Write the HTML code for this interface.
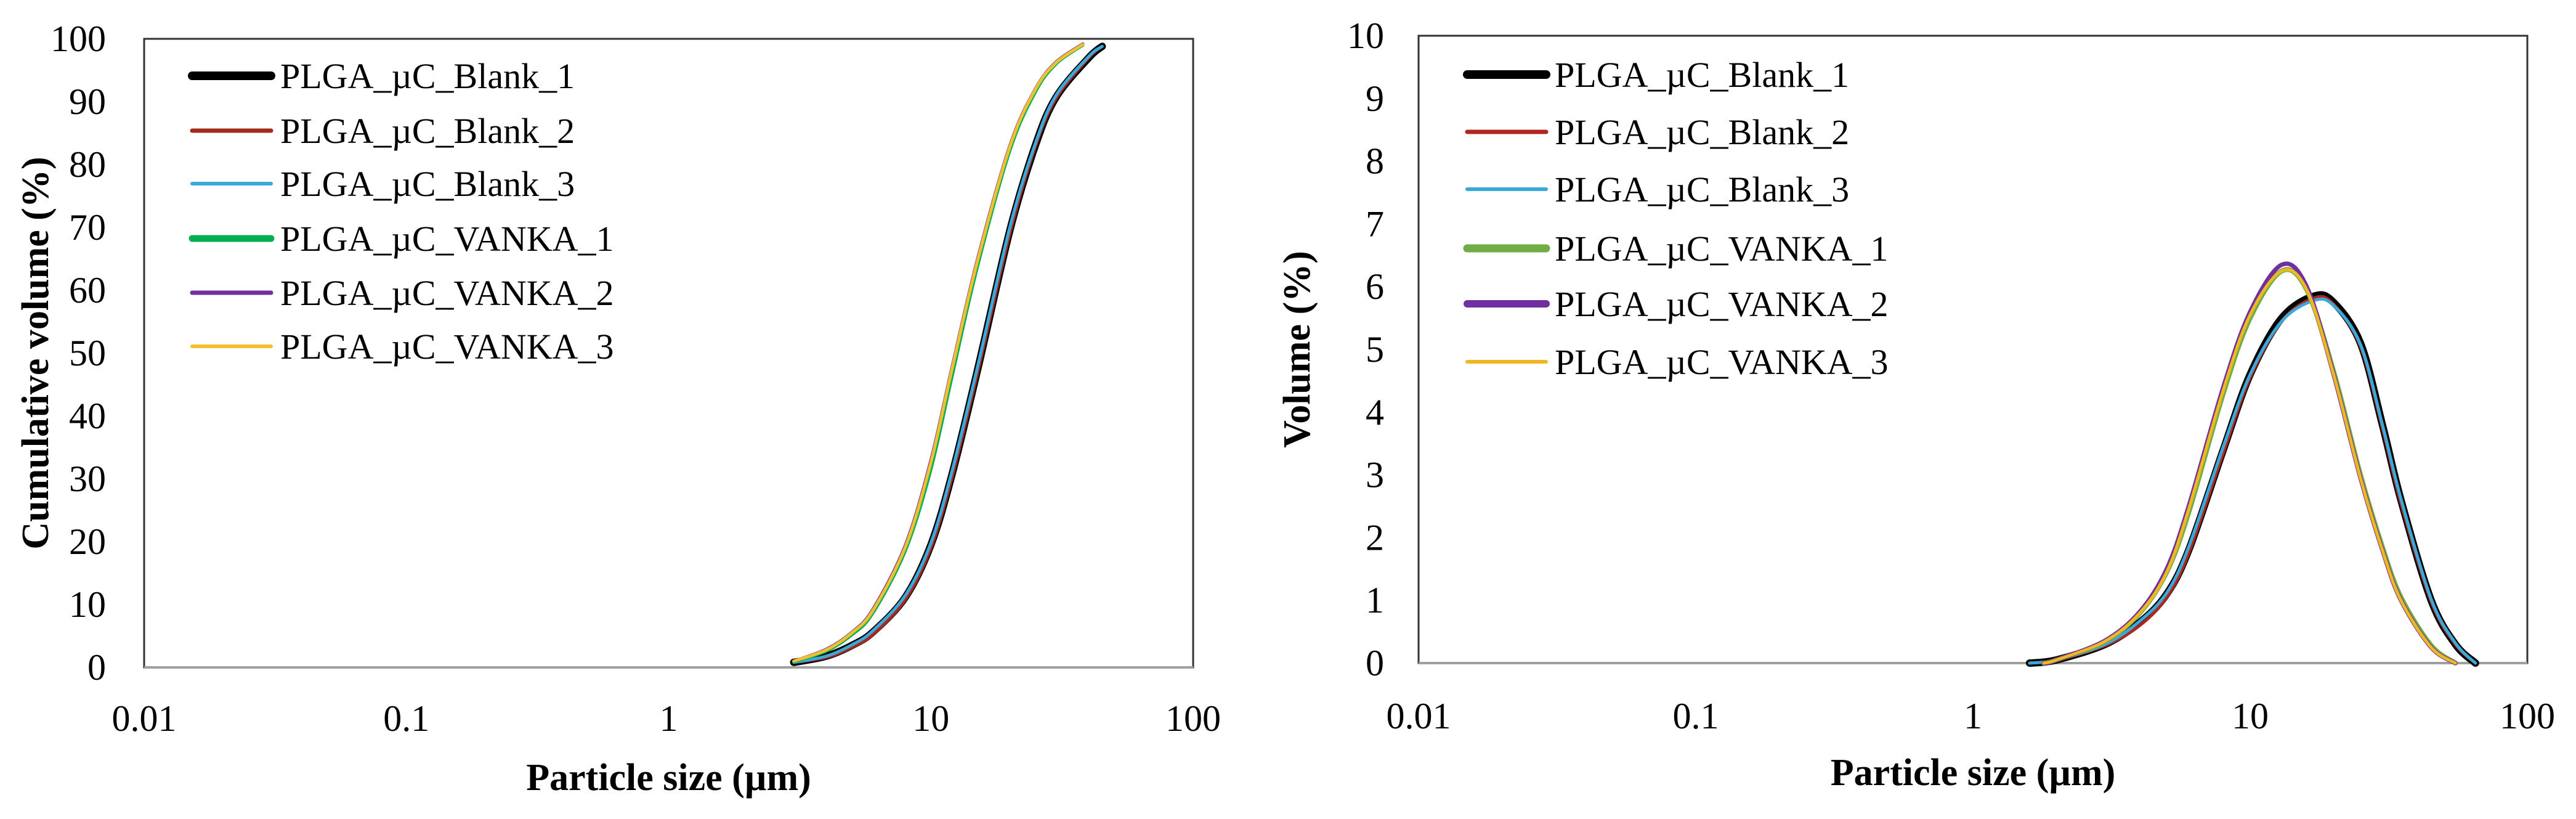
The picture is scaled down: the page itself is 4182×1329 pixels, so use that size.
<!DOCTYPE html>
<html><head><meta charset="utf-8">
<style>
html,body{margin:0;padding:0;background:#fff;}
svg{display:block;}
svg text{font-family:"Liberation Serif","Times New Roman",serif !important;fill:#000;}
</style></head>
<body>
<svg id="fig" width="4182" height="1329" viewBox="0 0 4182 1329" xmlns="http://www.w3.org/2000/svg"></svg>
<script>
const seriesNames = ["PLGA_\u00b5C_Blank_1","PLGA_\u00b5C_Blank_2","PLGA_\u00b5C_Blank_3","PLGA_\u00b5C_VANKA_1","PLGA_\u00b5C_VANKA_2","PLGA_\u00b5C_VANKA_3"];
const xTickValues = [0.01,0.1,1,10,100];
const xTickLabels = ["0.01","0.1","1","10","100"];
const cumYTicks = [0,10,20,30,40,50,60,70,80,90,100];
const volYTicks = [0,1,2,3,4,5,6,7,8,9,10];

// Cumulative volume (%) chart
const cumX_blank = [3,4,5,6,8,10,12,15,20,25,30,40,45];
const cumY_blank1 = [0.8,1.8,3.5,5.6,11.2,19.5,30.5,47,69.5,83,90.7,97,98.8];
const cumY_blank2 = [0.8,1.6,3.2,5.2,10.8,19,30,46.5,69,82.8,90.5,97,98.8];
const cumY_blank3 = [0.8,1.8,3.6,5.8,11.5,19.8,31,47.5,70,83.3,91,97.2,98.8];
const cumX_vanka = [3,4,5,6,8,10,12,15,20,25,30,38];
const cumY_vanka1 = [0.9,2.6,5.2,8.6,18.6,31.5,46,63.5,82.2,91.5,96,99];
const cumY_vanka2 = [1.0,2.9,5.6,9.2,19.5,33,47.5,64.7,83,92,96.3,99.2];
const cumY_vanka3 = [1.0,2.8,5.5,9.0,19.2,32.6,47.2,64.4,82.8,91.9,96.2,99.1];

// Volume (%) chart
const volX_blank = [1.6,2,3,4,5,6,8,10,13,17,20,25,30,35,45,55,65];
const volY_blank1 = [0,0.05,0.3,0.65,1.1,1.8,3.4,4.6,5.5,5.85,5.75,5.1,3.8,2.6,1.0,0.3,0];
const volY_blank2 = [0,0.05,0.28,0.6,1.05,1.75,3.35,4.55,5.45,5.82,5.72,5.05,3.75,2.55,0.98,0.3,0];
const volY_blank3 = [0,0.05,0.3,0.67,1.12,1.85,3.45,4.6,5.45,5.78,5.7,5.08,3.8,2.62,1.02,0.32,0];
const volX_vanka = [1.8,2,3,4,5,6,8,10,13,16,20,25,30,35,45,55];
const volY_vanka1 = [0,0.05,0.35,0.8,1.45,2.4,4.3,5.5,6.25,5.95,4.65,3.0,1.85,1.05,0.28,0];
const volY_vanka2 = [0,0.05,0.36,0.82,1.5,2.5,4.4,5.6,6.35,6.0,4.6,2.95,1.8,1.0,0.25,0];
const volY_vanka3 = [0,0.05,0.35,0.8,1.45,2.45,4.35,5.55,6.25,5.95,4.6,2.95,1.8,1.0,0.25,0];

const colors = ["#000000","#a52a1e","#3aa8d8","#00b050","#7030a0","#f0c030"];
const colorsR = ["#000000","#b0261c","#3aa8d8","#70ad47","#7030a0","#f0b820"];

const NS="http://www.w3.org/2000/svg";
const svg=document.getElementById('fig');
function mk(tag,attrs,parent){const e=document.createElementNS(NS,tag);for(const k in attrs)e.setAttribute(k,attrs[k]);(parent||svg).appendChild(e);return e;}
const FF='"Liberation Serif", serif';

function smoothPath(pts){
  let d="M"+pts[0][0].toFixed(1)+","+pts[0][1].toFixed(1);
  for(let i=0;i<pts.length-1;i++){
    const p0=pts[i-1]||pts[i],p1=pts[i],p2=pts[i+1],p3=pts[i+2]||p2;
    const c1=[p1[0]+(p2[0]-p0[0])/6,p1[1]+(p2[1]-p0[1])/6];
    const c2=[p2[0]-(p3[0]-p1[0])/6,p2[1]-(p3[1]-p1[1])/6];
    d+=" C"+c1[0].toFixed(1)+","+c1[1].toFixed(1)+" "+c2[0].toFixed(1)+","+c2[1].toFixed(1)+" "+p2[0].toFixed(1)+","+p2[1].toFixed(1);
  }
  return d;
}

function chart(cfg){
  const g=mk('g',{});
  
  
  const xs=v=>cfg.L+(Math.log10(v)+2)/4*(cfg.R-cfg.L);
  const ys=v=>cfg.B-(v-cfg.ymin)/(cfg.ymax-cfg.ymin)*(cfg.B-cfg.T);
  const frame=mk('rect',{x:cfg.L,y:cfg.T,width:cfg.R-cfg.L,height:cfg.B-cfg.T,fill:'none',stroke:'#333','stroke-width':3},g);
  
  
  const ax=mk('line',{x1:cfg.L,x2:cfg.R,y1:cfg.B,y2:cfg.B,stroke:'#a0a0a0','stroke-width':4},g);
  
  
  cfg.yticks.forEach(v=>{
    const t=mk('text',{x:cfg.yLabX,y:ys(v)+20,'text-anchor':'end','font-size':60,'font-family':FF},g);
    t.textContent=v;
    
    
  });
  xTickValues.forEach((v,i)=>{
    const t=mk('text',{x:xs(v),y:cfg.xLabY,'text-anchor':'middle','font-size':60,'font-family':FF},g);
    t.textContent=xTickLabels[i];
    
    
  });
  const xt=mk('text',{x:(cfg.L+cfg.R)/2,y:cfg.xTitleY,'text-anchor':'middle','font-size':62,'font-weight':'bold','font-family':FF},g);
  xt.textContent="Particle size (\u00b5m)";
  
  
  const yt=mk('text',{x:0,y:0,'text-anchor':'middle','font-size':62,'font-weight':'bold','font-family':FF,transform:`translate(${cfg.yTitleX},${(cfg.T+cfg.B)/2}) rotate(-90)`},g);
  yt.textContent=cfg.ytitle;
  
  
  cfg.series.forEach((s,i)=>{
    const pts=s.x.map((xv,j)=>[xs(xv),ys(s.y[j])]);
    const p=mk('path',{d:smoothPath(pts),fill:'none',stroke:cfg.colors[i],'stroke-width':s.w,'stroke-linecap':'round','stroke-linejoin':'round'},g);
    
    
  });
  seriesNames.forEach((n,i)=>{
    const y=cfg.legY[i];
    const l=mk('line',{x1:cfg.legX1,x2:cfg.legX2,y1:y,y2:y,stroke:cfg.colors[i],'stroke-width':cfg.series[i].lw,'stroke-linecap':'round'},g);
    
    
    const t=mk('text',{x:cfg.legTX,y:y+20,'font-size':58,'font-family':FF},g);
    t.textContent=n;
    
    
  });
}

chart({name:'cumulative-volume-chart',L:234,R:1937,T:63,B:1083,ymin:0,ymax:100,yticks:cumYTicks,
  yLabX:172,xLabY:1186,xTitleY:1282,yTitleX:78,ytitle:"Cumulative volume (%)",colors:colors,
  legX1:312,legX2:440,legTX:455,legY:[123,212,298,387,475,562],
  series:[
    {x:cumX_blank,y:cumY_blank1,w:12,lw:14},
    {x:cumX_blank,y:cumY_blank2,w:5,lw:7},
    {x:cumX_blank,y:cumY_blank3,w:5,lw:6},
    {x:cumX_vanka,y:cumY_vanka1,w:5,lw:11},
    {x:cumX_vanka,y:cumY_vanka2,w:5,lw:7},
    {x:cumX_vanka,y:cumY_vanka3,w:5,lw:6}
  ]});
chart({name:'volume-chart',L:2303,R:4103,T:58,B:1076,ymin:0,ymax:10,yticks:volYTicks,
  yLabX:2247,xLabY:1182,xTitleY:1274,yTitleX:2126,ytitle:"Volume (%)",colors:colorsR,
  legX1:2382,legX2:2510,legTX:2524,legY:[121,214,307,403,493,587],
  series:[
    {x:volX_blank,y:volY_blank1,w:12,lw:14},
    {x:volX_blank,y:volY_blank2,w:5,lw:7},
    {x:volX_blank,y:volY_blank3,w:5,lw:6},
    {x:volX_vanka,y:volY_vanka1,w:8,lw:13},
    {x:volX_vanka,y:volY_vanka2,w:7,lw:12},
    {x:volX_vanka,y:volY_vanka3,w:5,lw:6}
  ]});
</script>
</body></html>
